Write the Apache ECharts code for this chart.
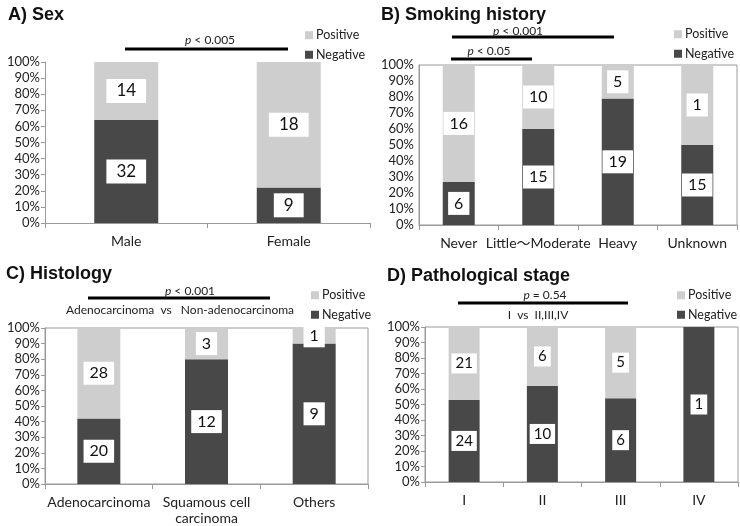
<!DOCTYPE html>
<html><head><meta charset="utf-8">
<script src="https://cdn.jsdelivr.net/npm/echarts@6/dist/echarts.min.js"></script>
<style>html,body{margin:0;padding:0;background:#fff}#c{width:740px;height:526px}</style>
</head><body><div id="c"></div>
<script>
// Panel A: Sex
const sexCats = ['Male', 'Female'];
const sexNegPct = [64, 22];
const sexPosPct = [36, 78];
const sexNegN = [32, 9];
const sexPosN = [14, 18];
// Panel B: Smoking history
const smokeCats = ['Never', 'Little〜Moderate', 'Heavy', 'Unknown'];
const smokeNegPct = [27, 60, 79, 50];
const smokePosPct = [73, 40, 21, 50];
const smokeNegN = [6, 15, 19, 15];
const smokePosN = [16, 10, 5, 1];
// Panel C: Histology
const histCats = ['Adenocarcinoma', 'Squamous cell\ncarcinoma', 'Others'];
const histNegPct = [42, 80, 90];
const histPosPct = [58, 20, 10];
const histNegN = [20, 12, 9];
const histPosN = [28, 3, 1];
// Panel D: Pathological stage
const stageCats = ['I', 'II', 'III', 'IV'];
const stageNegPct = [53, 62, 54, 100];
const stagePosPct = [47, 38, 46, 0];
const stageNegN = [24, 10, 6, 1];
const stagePosN = [21, 6, 5, null];
// tick labels
const yTicks = [0, 10, 20, 30, 40, 50, 60, 70, 80, 90, 100];

const FONT = 'Lato, "Open Sans", "Noto Sans CJK JP", sans-serif';
const TFONT = '"Liberation Sans", Arial, sans-serif';
const LIGHT = '#cecece', DARK = '#484848', AX = '#9a9a9a';

const panels = [
  {cats: sexCats, neg: sexNegPct, pos: sexPosPct, negN: sexNegN, posN: sexPosN,
   grid: {left: 45, top: 62, width: 325, height: 161}, box: false, yTick: true,
   barWidth: 64, lab: {fontSize: 17, padding: [4, 10, 3, 10]}, legend: {left: 305, top: 29}},
  {cats: smokeCats, neg: smokeNegPct, pos: smokePosPct, negN: smokeNegN, posN: smokePosN,
   grid: {left: 419, top: 65, width: 318, height: 160}, box: true, yTick: false,
   barWidth: 32, lab: {fontSize: 16, padding: [4, 6, 3, 6]}, legend: {left: 674, top: 28}},
  {cats: histCats, neg: histNegPct, pos: histPosPct, negN: histNegN, posN: histPosN,
   grid: {left: 45, top: 328, width: 323, height: 160}, box: true, yTick: true,
   barWidth: 43, lab: {fontSize: 16, padding: [4, 6, 3, 6]}, legend: {left: 311, top: 289}},
  {cats: stageCats, neg: stageNegPct, pos: stagePosPct, negN: stageNegN, posN: stagePosN,
   grid: {left: 425, top: 327, width: 313, height: 155}, box: true, yTick: true,
   barWidth: 31, lab: {fontSize: 15, padding: [3, 4, 2, 4]}, legend: {left: 677, top: 289}}
];

const grid = [], xAxis = [], yAxis = [], series = [], legend = [];
panels.forEach((p, i) => {
  grid.push(Object.assign({show: p.box, borderColor: AX, borderWidth: 1, backgroundColor: 'transparent'}, p.grid));
  xAxis.push({type: 'category', gridIndex: i, data: p.cats,
    axisLine: {lineStyle: {color: AX}}, axisTick: {show: true, length: 5, lineStyle: {color: AX}},
    axisLabel: {interval: 0, color: '#222', fontSize: 14, fontFamily: FONT, margin: 10, lineHeight: 16}});
  yAxis.push({type: 'value', gridIndex: i, min: 0, max: 100, interval: 10,
    axisLine: {show: true, lineStyle: {color: AX}}, axisTick: {show: p.yTick, length: 4, lineStyle: {color: AX}},
    splitLine: {show: false},
    axisLabel: {color: '#222', fontSize: 13, fontFamily: FONT, margin: 5, formatter: v => yTicks.includes(v) ? v + '%' : ''}});
  const mk = (name, vals, ns, color) => ({
    name, type: 'bar', stack: 's' + i, xAxisIndex: i, yAxisIndex: i, barWidth: p.barWidth,
    itemStyle: {color},
    data: vals.map((v, k) => ns[k] == null ? {value: v, label: {show: false}} : v),
    label: {show: true, position: 'inside', backgroundColor: '#fff', color: '#111',
      fontFamily: FONT, fontSize: p.lab.fontSize, padding: p.lab.padding,
      formatter: prm => ns[prm.dataIndex] == null ? '' : String(ns[prm.dataIndex])},
    emphasis: {disabled: true}, animation: false
  });
  series.push(mk('Negative', p.neg, p.negN, DARK));
  series.push(mk('Positive', p.pos, p.posN, LIGHT));
  legend.push({left: p.legend.left, top: p.legend.top, orient: 'vertical', data: ['Positive', 'Negative'],
    icon: 'rect', itemWidth: 8, itemHeight: 8, itemGap: 7, selectedMode: false, padding: 0,
    textStyle: {fontSize: 12.5, color: '#222', fontFamily: FONT, padding: [0, 0, 0, -2]}});
});

const titles = [
  {text: 'A) Sex', left: 3, top: 1},
  {text: 'B) Smoking history', left: 376, top: 1},
  {text: 'C) Histology', left: 1, top: 260},
  {text: 'D) Pathological stage', left: 382, top: 262}
].map(t => Object.assign(t, {textStyle: {fontFamily: TFONT, fontWeight: 'bold', fontSize: 18, color: '#111'}}));

const pText = (txt, x, y) => ({type: 'text', x, y, style: {
  text: txt, fill: '#222', font: '12px ' + FONT, textAlign: 'center', textVerticalAlign: 'middle'}});
const bar = (x1, x2, y) => ({type: 'line', shape: {x1, y1: y, x2, y2: y}, style: {stroke: '#000', lineWidth: 3}});
const pv = (rest, x, y) => ({type: 'text', x, y, style: {
  rich: {i: {fontStyle: 'italic', fontSize: 12, fontFamily: FONT, fill: '#222'}, n: {fontSize: 12, fontFamily: FONT, fill: '#222'}},
  text: '{i|p}{n| ' + rest + '}', textAlign: 'center', textVerticalAlign: 'middle'}});

const graphic = [
  bar(125, 288, 49), pv('< 0.005', 210, 40),
  bar(452, 614, 37), pv('< 0.001', 518, 31),
  bar(451, 532, 59), pv('< 0.05', 489, 51),
  bar(88, 270, 298), pv('< 0.001', 190, 291),
  pText('Adenocarcinoma  vs   Non-adenocarcinoma', 180, 310),
  bar(458, 628, 303), pv('= 0.54', 545, 295),
  pText('I  vs  II,III,IV', 538, 315)
];

const chart = echarts.init(document.getElementById('c'), null, {renderer: 'canvas'});
chart.setOption({animation: false, title: titles, grid, xAxis, yAxis, series, legend, graphic});
</script></body></html>
